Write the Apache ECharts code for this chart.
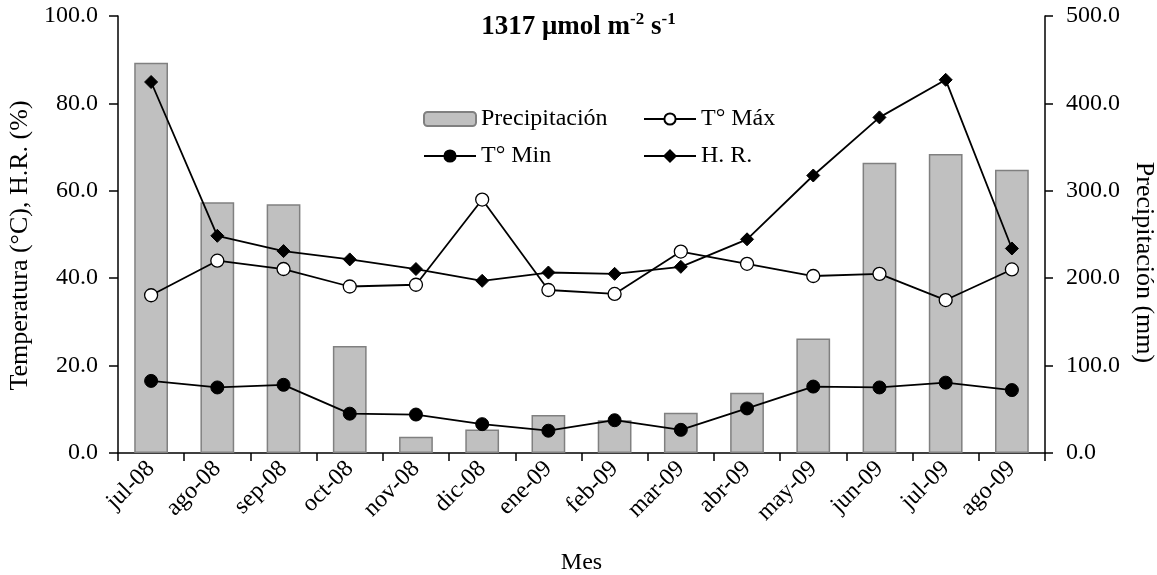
<!DOCTYPE html>
<html>
<head>
<meta charset="utf-8">
<script src="https://cdn.jsdelivr.net/npm/echarts@6/dist/echarts.min.js"></script>
<style>
html,body{margin:0;padding:0;background:#fff;}
#chart{width:1157px;height:575px;}
</style>
</head>
<body>
<div id="chart"></div>
<script>
const months = ['jul-08','ago-08','sep-08','oct-08','nov-08','dic-08','ene-09','feb-09','mar-09','abr-09','may-09','jun-09','jul-09','ago-09'];
const precipitacion = [446.5, 287.0, 284.5, 122.5, 18.5, 27.0, 43.5, 37.5, 46.0, 69.0, 131.0, 332.0, 342.0, 324.0];
const tMax = [36.1, 44.0, 42.1, 38.1, 38.5, 58.0, 37.3, 36.4, 46.1, 43.3, 40.5, 41.0, 35.0, 42.0];
const tMin = [16.5, 15.0, 15.6, 9.0, 8.8, 6.6, 5.1, 7.5, 5.3, 10.2, 15.2, 15.0, 16.1, 14.4];
const hr = [84.9, 49.7, 46.2, 44.3, 42.1, 39.4, 41.3, 41.0, 42.6, 48.9, 63.5, 76.8, 85.4, 46.8];
const leftTicks = {min: 0, max: 100, interval: 20};
const rightTicks = {min: 0, max: 500, interval: 100};

const FONT = "'Liberation Serif', 'Times New Roman', serif";
const FS = 24;
const chart = echarts.init(document.getElementById('chart'), null, {renderer: 'canvas'});

const legendText = {fontFamily: FONT, fontSize: FS, color: '#000'};
function mkLegend(name, left, top) {
  return {
    data: [name], left: left, top: top, orient: 'horizontal',
    itemWidth: 52, itemHeight: 14, itemGap: 0,
    textStyle: legendText, selectedMode: false
  };
}

const option = {
  animation: false,
  backgroundColor: '#fff',
  title: {
    text: '{b|1317 μmol m}{s|-2}{b| s}{s|-1}',
    left: 'center', top: 6,
    textStyle: {
      rich: {
        b: {fontFamily: FONT, fontSize: 27, fontWeight: 'bold', color: '#000', lineHeight: 32},
        s: {fontFamily: FONT, fontSize: 17, fontWeight: 'bold', color: '#000', verticalAlign: 'top', lineHeight: 32, padding: [0, 0, 12, 0]}
      }
    }
  },
  legend: [
    mkLegend('Precipitación', 418, 102),
    mkLegend('T° Máx', 638, 102),
    mkLegend('T° Min', 418, 139),
    mkLegend('H. R.', 638, 139)
  ],
  grid: {left: 118, right: 112, top: 16, bottom: 122, containLabel: false, outerBoundsMode: 'none'},
  xAxis: {
    type: 'category', data: months, boundaryGap: true,
    name: 'Mes', nameLocation: 'middle', nameGap: 98,
    nameTextStyle: {fontFamily: FONT, fontSize: FS, color: '#000'},
    axisLine: {show: true, lineStyle: {color: '#000', width: 1.5}},
    axisTick: {show: true, interval: 0, length: 8, inside: false, lineStyle: {color: '#000', width: 1.5}},
    axisLabel: {interval: 0, rotate: 45, margin: 12, fontFamily: FONT, fontSize: FS, color: '#000'},
    splitLine: {show: false}
  },
  yAxis: [
    {
      type: 'value', min: leftTicks.min, max: leftTicks.max, interval: leftTicks.interval, position: 'left',
      name: 'Temperatura (°C), H.R. (%)', nameLocation: 'middle', nameGap: 83, nameRotate: 90,
      nameTextStyle: {fontFamily: FONT, fontSize: 26, color: '#000', padding: [0, 22, 0, 0]},
      axisLine: {show: true, lineStyle: {color: '#000', width: 1.5}},
      axisTick: {show: true, length: 9, inside: false, lineStyle: {color: '#000', width: 1.5}},
      axisLabel: {margin: 20, fontFamily: FONT, fontSize: FS, color: '#000', formatter: v => v.toFixed(1)},
      splitLine: {show: false}
    },
    {
      type: 'value', min: rightTicks.min, max: rightTicks.max, interval: rightTicks.interval, position: 'right',
      name: 'Precipitación (mm)', nameLocation: 'middle', nameGap: 77, nameRotate: -90,
      nameTextStyle: {fontFamily: FONT, fontSize: 26, color: '#000', padding: [0, 0, 0, 56]},
      axisLine: {show: true, lineStyle: {color: '#000', width: 1.5}},
      axisTick: {show: true, length: 8, inside: false, lineStyle: {color: '#000', width: 1.5}},
      axisLabel: {margin: 21, fontFamily: FONT, fontSize: FS, color: '#000', formatter: v => v.toFixed(1)},
      splitLine: {show: false}
    }
  ],
  series: [
    {
      name: 'Precipitación', type: 'bar', yAxisIndex: 1, data: precipitacion,
      barWidth: '51%',
      itemStyle: {color: '#c0c0c0', borderColor: '#808080', borderWidth: 1.5},
      z: 1
    },
    {
      name: 'T° Máx', type: 'line', yAxisIndex: 0, data: tMax,
      symbol: 'circle', symbolSize: 13, showAllSymbol: true,
      lineStyle: {color: '#000', width: 1.8},
      itemStyle: {color: '#fff', borderColor: '#000', borderWidth: 1.3},
      z: 3
    },
    {
      name: 'T° Min', type: 'line', yAxisIndex: 0, data: tMin,
      symbol: 'circle', symbolSize: 13, showAllSymbol: true,
      lineStyle: {color: '#000', width: 1.8},
      itemStyle: {color: '#000', borderColor: '#000', borderWidth: 1},
      z: 3
    },
    {
      name: 'H. R.', type: 'line', yAxisIndex: 0, data: hr,
      symbol: 'diamond', symbolSize: 13, showAllSymbol: true,
      lineStyle: {color: '#000', width: 1.8},
      itemStyle: {color: '#000', borderColor: '#000', borderWidth: 1},
      z: 3
    }
  ]
};
chart.setOption(option);
</script>
</body>
</html>
